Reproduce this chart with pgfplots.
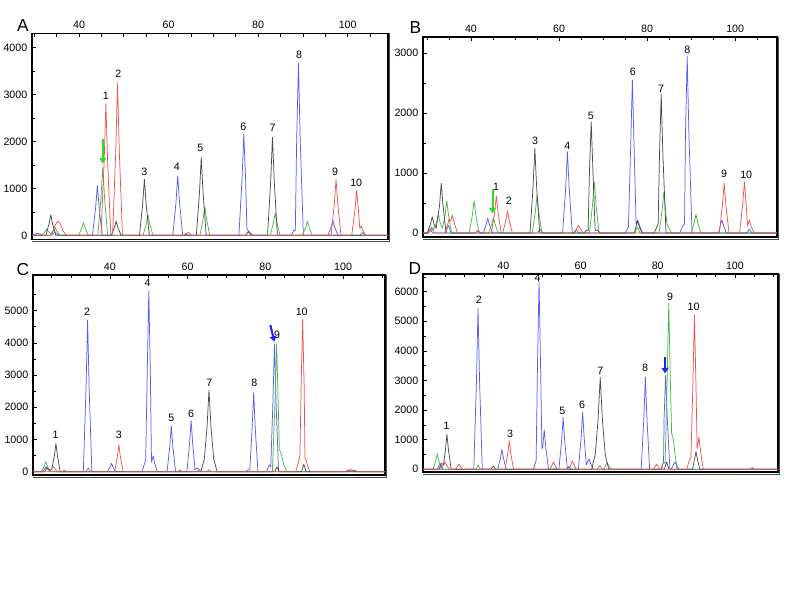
\documentclass[border=0pt]{standalone}
\usepackage{fontspec}
\setmainfont{Liberation Sans}
\usepackage{pgfplots}
\pgfplotsset{compat=1.18}
\usetikzlibrary{arrows.meta}
\definecolor{cblue}{RGB}{90,90,245}
\definecolor{cred}{RGB}{245,80,80}
\definecolor{cgreen}{RGB}{70,185,70}
\definecolor{cblack}{RGB}{75,75,75}
\definecolor{agreen}{RGB}{40,220,40}
\definecolor{ablue}{RGB}{30,30,255}
\pgfplotsset{
 panel/.style={scale only axis, clip=true,
  axis line style={line width=0.9pt},
  tick align=inside, xtick pos=right, xticklabel pos=right, ytick pos=left,
  xtick={40,60,80,100}, minor xtick={25,30,...,110},
  major tick length=3pt, minor tick length=2.5pt,
  tick style={line width=0.5pt, black},
  ticklabel style={font=\fontsize{8}{9.6}\selectfont},
  /pgf/number format/assume math mode=true,
  /pgf/number format/1000 sep={},
  every axis plot/.append style={no marks, line width=0.55pt, line join=round},
 },
}
\tikzset{lab/.style={font=\fontsize{8}{9.6}\selectfont, inner sep=0pt}}
\begin{document}
\begin{tikzpicture}
\path[use as bounding box] (0,0) rectangle (600pt,-450pt);
\node[font=\fontsize{13}{14}\selectfont] at (17.25pt,-19.1pt) {A};
\node[font=\fontsize{13}{14}\selectfont] at (311.5pt,-21pt) {B};
\node[font=\fontsize{13}{14}\selectfont] at (17.25pt,-202.1pt) {C};
\node[font=\fontsize{13}{14}\selectfont] at (311.25pt,-201.5pt) {D};

% ---------------- A ----------------
\begin{axis}[panel, name=pa, at={(24pt,-25pt)}, anchor=north west,
  width=267pt, height=154.5pt,
  xmin=29.5, xmax=109, ymin=-85, ymax=4300,
  ytick={0,1000,2000,3000,4000}, minor ytick={500,1500,2500,3500}]
\addplot[cblue] coordinates {(29.5,0)(30.3,28)(30.7,50)(31.1,28)(31.8,0)
 (33.5,0)(34.2,33)(34.6,60)(35.0,33)(35.7,0)
 (43.0,0)(43.7,583)(44.1,1060)(44.5,583)(45.2,0)
 (60.95,0)(61.65,699)(62.05,1270)(62.45,699)(63.15,0)(63.3,0)(63.85,40)(64.4,0)
 (75.7,0)(76.4,1188)(76.8,2160)(77.2,1188)(77.5,130)(77.8,100)(78.2,55)(78.9,0)
 (87.4,0)(88.0,110)(88.3,100)(88.6,2013)(89.0,3660)(89.4,2013)(90.1,0)
 (95.6,0)(96.3,176)(96.7,320)(97.1,176)(97.8,0)
 (102.7,0)(103.3,60)(103.9,0)(109,0)};
\addplot[cgreen] coordinates {(29.5,0)(31.7,0)(32.4,77)(32.8,140)(33.2,77)(33.7,30)(34.2,96)(34.6,175)(35.0,96)(35.7,0)
 (39.9,0)(40.6,149)(41.0,270)(41.4,149)(42.1,0)
 (44.2,0)(44.9,798)(45.3,1450)(45.7,798)(46.4,0)
 (54.3,0)(55.0,242)(55.4,440)(55.8,242)(56.5,0)
 (67.0,0)(67.7,338)(68.1,615)(68.5,338)(69.2,0)
 (82.7,0)(83.4,261)(83.8,475)(84.2,261)(84.9,0)
 (89.9,0)(90.6,165)(91.0,300)(91.4,165)(92.1,0)(109,0)};
\addplot[cblack] coordinates {(29.5,0)(32.6,0)(33.3,242)(33.7,440)(34.1,242)(34.8,0)
 (47.2,0)(47.9,165)(48.3,300)(48.7,165)(49.4,0)
 (53.5,0)(54.2,655)(54.6,1190)(55.0,655)(55.7,0)
 (66.2,0)(66.9,913)(67.3,1660)(67.7,913)(68.4,0)
 (77.2,0)(77.8,80)(78.4,0)
 (82.1,0)(82.8,1150)(83.2,2090)(83.6,1150)(84.3,0)(109,0)};
\addplot[cred] coordinates {(29.5,0)(33.9,0)(34.6,200)(35.2,300)(35.8,250)(36.4,100)(37.2,0)
 (44.9,0)(45.6,1540)(46.0,2800)(46.4,1540)(47.1,0)
 (47.5,0)(48.2,1779)(48.6,3235)(49.0,1779)(49.7,0)
 (63.7,0)(64.4,70)(65.1,0)
 (96.3,0)(97.0,655)(97.4,1190)(97.8,655)(98.5,0)
 (100.9,0)(101.6,525)(102.0,955)(102.4,525)(102.7,150)(103.0,200)(103.4,100)(104.0,0)(109,0)};
\node[lab] at (axis cs:45.97,2972) {1};
\node[lab] at (axis cs:48.78,3439) {2};
\node[lab] at (axis cs:54.6,1359) {3};
\node[lab] at (axis cs:61.83,1450) {4};
\node[lab] at (axis cs:67.1,1853) {5};
\node[lab] at (axis cs:76.7,2314) {6};
\node[lab] at (axis cs:83.2,2278) {7};
\node[lab] at (axis cs:89.16,3837) {8};
\node[lab] at (axis cs:97.2,1359) {9};
\node[lab] at (axis cs:101.9,1119) {10};
\draw[agreen, line width=1.6pt, -{Triangle[length=4pt,width=5pt]}] (axis cs:45.3,2060) -- (axis cs:45.3,1530);
\end{axis}
\draw[black!70, line width=0.6pt] ([yshift=-1.6pt]pa.south west) -- ([yshift=-1.6pt,xshift=0.8pt]pa.south east) -- ([xshift=0.8pt]pa.north east);

% ---------------- B ----------------
\begin{axis}[panel, name=pb, at={(317.25pt,-27.75pt)}, anchor=north west,
  width=265.5pt, height=150pt,
  xmin=29.1, xmax=109.5, ymin=-67, ymax=3267,
  ytick={0,1000,2000,3000}, minor ytick={500,1500,2500}]
\addplot[cblue] coordinates {(29.1,0)(30.0,0)(30.7,60)(31.3,0)
 (34.2,0)(34.85,130)(35.5,0)
 (41.0,0)(41.6,40)(42.2,0)
 (42.8,0)(43.4,135)(43.8,245)(44.2,135)(44.9,0)
 (55.1,0)(55.7,60)(56.3,0)
 (60.8,0)(61.5,745)(61.9,1355)(62.3,745)(63.0,0)(63.3,0)(63.9,60)(64.5,0)
 (75.0,0)(75.75,100)(76.25,1403)(76.65,2550)(77.05,1403)(77.5,150)(77.9,215)(78.3,118)(79.0,0)
 (87.4,0)(88.1,120)(88.5,150)(88.7,1623)(89.1,2950)(89.5,1623)(90.2,0)
 (96.2,0)(96.6,118)(97.0,215)(97.4,118)(98.0,0)
 (102.6,0)(103.2,60)(103.8,0)(109.5,0)};
\addplot[cgreen] coordinates {(29.1,0)(30.3,0)(31.0,100)(31.5,60)(32.2,170)(32.6,310)(33.0,170)(33.5,80)(34.1,295)(34.5,535)(34.9,295)(35.6,0)
 (39.6,0)(40.3,297)(40.7,540)(41.1,297)(41.8,0)
 (44.0,0)(44.7,143)(45.1,260)(45.5,143)(46.2,0)
 (53.9,0)(54.6,347)(55.0,630)(55.4,347)(56.1,0)
 (66.9,0)(67.6,470)(68.0,855)(68.4,470)(69.1,0)
 (77.2,0)(77.8,100)(78.4,0)
 (82.7,0)(83.4,374)(83.8,680)(84.2,374)(84.5,150)(84.9,90)(85.5,0)
 (90.0,0)(90.7,171)(91.1,310)(91.5,171)(92.2,0)(109.5,0)};
\addplot[cblack] coordinates {(29.1,0)(30.1,0)(30.8,150)(31.2,270)(31.6,150)(32.1,80)(32.85,456)(33.25,830)(33.65,456)(34.35,0)
 (53.4,0)(54.1,776)(54.5,1410)(54.9,776)(55.6,0)
 (65.7,0)(66.3,50)(66.6,40)(66.9,1020)(67.3,1855)(67.7,1020)(68.2,40)(68.7,50)(69.3,0)
 (77.1,0)(77.5,110)(77.8,200)(78.2,110)(78.8,0)
 (81.6,0)(82.2,100)(82.5,150)(82.8,1270)(83.2,2310)(83.6,1270)(84.3,0)(109.5,0)};
\addplot[cred] coordinates {(29.1,0)(30.4,0)(31.1,70)(31.8,0)
 (34.2,0)(35.0,230)(35.4,200)(35.75,300)(36.2,170)(36.9,0)
 (41.0,0)(41.6,40)(42.2,0)
 (44.65,0)(45.35,338)(45.75,615)(46.15,338)(46.85,0)
 (47.2,0)(47.9,204)(48.3,370)(48.7,204)(49.4,0)
 (63.6,0)(64.0,72)(64.4,130)(64.8,72)(65.4,0)
 (96.4,0)(97.1,457)(97.5,830)(97.9,457)(98.6,0)
 (101.0,0)(101.7,470)(102.1,855)(102.5,470)(102.8,120)(103.2,215)(103.6,118)(104.3,0)(109.5,0)};
\node[lab] at (axis cs:45.68,772) {1};
\node[lab] at (axis cs:48.57,533) {2};
\node[lab] at (axis cs:54.55,1538) {3};
\node[lab] at (axis cs:61.89,1450) {4};
\node[lab] at (axis cs:67.2,1950) {5};
\node[lab] at (axis cs:76.75,2688) {6};
\node[lab] at (axis cs:83.18,2400) {7};
\node[lab] at (axis cs:89.16,3050) {8};
\node[lab] at (axis cs:97.5,983) {9};
\node[lab] at (axis cs:102.5,962) {10};
\draw[agreen, line width=1.6pt, -{Triangle[length=4pt,width=5pt]}] (axis cs:44.9,728) -- (axis cs:44.9,328);
\end{axis}
\draw[black!70, line width=0.6pt] ([yshift=-1.6pt]pb.south west) -- ([yshift=-1.6pt,xshift=0.8pt]pb.south east) -- ([xshift=0.8pt]pb.north east);

% ---------------- C ----------------
\begin{axis}[panel, name=pc, at={(24.75pt,-206.25pt)}, anchor=north west,
  width=264pt, height=150pt,
  xmin=20.2, xmax=110.8, ymin=-102, ymax=6109,
  ytick={0,1000,...,5000}, minor ytick={500,1500,...,5500}]
\addplot[cblue] coordinates {(20.2,0)(22.5,0)(23.2,83)(23.6,150)(24.0,83)(24.7,0)
 (33.15,0)(33.85,2590)(34.25,4710)(34.65,2590)(35.35,0)
 (39.3,0)(40.0,143)(40.4,260)(40.8,143)(41.5,0)
 (48.3,0)(48.9,250)(49.2,360)(49.6,3086)(50.0,5610)(50.4,3086)(50.7,300)(51.15,490)(51.5,270)(52.2,0)
 (54.7,0)(55.4,781)(55.8,1420)(56.2,781)(56.9,0)
 (59.8,0)(60.5,872)(60.9,1585)(61.3,872)(61.9,60)(62.5,120)(62.9,66)(63.4,0)
 (74.9,0)(75.6,60)(76.0,50)(76.6,1353)(77.0,2460)(77.4,1353)(78.1,0)
 (80.3,0)(81.0,210)(81.4,150)(81.95,2173)(82.35,3950)(82.75,2173)(83.4,0)
 (100.5,0)(102,60)(103.5,0)(110.8,0)};
\addplot[cgreen] coordinates {(20.2,0)(22.4,0)(23.1,171)(23.5,310)(23.9,171)(24.6,0)
 (33.8,0)(34.4,120)(35.0,0)
 (62.3,0)(62.9,60)(63.5,0)
 (81.8,0)(82.5,2180)(82.9,3960)(83.3,2180)(83.6,700)(84.2,500)(84.8,200)(85.5,0)(110.8,0)};
\addplot[cblack] coordinates {(20.2,0)(23.2,0)(23.8,120)(24.3,60)(25.0,60)(25.7,484)(26.1,880)(26.5,484)(27.2,0)
 (63.4,0)(64.3,400)(65.0,1400)(65.5,2540)(66.0,1400)(66.7,400)(67.6,0)
 (82.4,0)(83.0,150)(83.6,0)
 (89.3,0)(89.9,230)(90.5,0)(110.8,0)};
\addplot[cred] coordinates {(20.2,0)(24.5,0)(25.0,96)(25.4,175)(25.8,96)(26.5,0)
 (27.7,0)(28.3,50)(28.9,0)
 (41.2,0)(41.9,457)(42.3,830)(42.7,457)(43.4,0)
 (57.4,0)(58.0,60)(58.6,0)
 (64.9,0)(65.5,60)(66.1,0)
 (87.8,0)(88.5,290)(88.9,500)(89.2,2600)(89.6,4730)(90.0,2600)(90.2,400)(90.45,385)(90.8,210)(91.5,0)
 (100.5,0)(101.5,60)(103,40)(104,0)(110.8,0)};
\node[lab] at (axis cs:26.02,1161) {1};
\node[lab] at (axis cs:34.15,4969) {2};
\node[lab] at (axis cs:42.32,1161) {3};
\node[lab] at (axis cs:49.7,5851) {4};
\node[lab] at (axis cs:55.8,1658) {5};
\node[lab] at (axis cs:60.86,1792) {6};
\node[lab] at (axis cs:65.57,2745) {7};
\node[lab] at (axis cs:77.16,2776) {8};
\node[lab] at (axis cs:83.0,4245) {9};
\node[lab] at (axis cs:89.37,4969) {10};
\draw[ablue, line width=1.5pt, -{Triangle[length=4pt,width=5pt]}] (axis cs:81.3,4556) -- (axis cs:82.3,4040);
\end{axis}
\draw[black!70, line width=0.6pt] ([yshift=-1.6pt]pc.south west) -- ([yshift=-1.6pt,xshift=0.8pt]pc.south east) -- ([xshift=0.8pt]pc.north east);

% ---------------- D ----------------
\begin{axis}[panel, name=pd, at={(317.25pt,-205.5pt)}, anchor=north west,
  width=266.25pt, height=148.5pt,
  xmin=19.2, xmax=111.15, ymin=-91, ymax=6598,
  ytick={0,1000,...,6000}, minor ytick={500,1500,...,6500}]
\addplot[cblue] coordinates {(19.2,0)(22.9,0)(23.6,200)(24.3,0)
 (32.35,0)(33.05,2992)(33.45,5440)(33.85,2992)(34.55,0)
 (38.55,0)(39.25,371)(39.65,675)(40.05,371)(40.75,0)
 (47.8,0)(48.5,300)(48.85,3490)(49.25,6350)(49.65,3490)(50.0,700)(50.2,732)(50.6,1330)(51.0,732)(51.7,0)
 (54.4,0)(55.1,960)(55.5,1745)(55.9,960)(56.6,0)(57.0,100)(57.5,0)
 (59.45,0)(60.15,1059)(60.55,1925)(60.95,1059)(61.5,150)(62.2,350)(62.6,193)(63.3,0)
 (75.7,0)(76.4,1711)(76.8,3110)(77.2,1711)(77.9,0)
 (81.0,0)(81.5,250)(81.65,1752)(82.05,3185)(82.45,1752)(83.15,0)
 (83.5,0)(84.0,138)(84.5,250)(84.9,138)(85.5,0)
 (103.9,0)(104.5,60)(105.1,0)(111.15,0)};
\addplot[cgreen] coordinates {(19.2,0)(21.8,0)(22.5,283)(22.9,515)(23.3,283)(24.0,0)
 (32.9,0)(33.5,150)(34.1,0)
 (53.0,0)(53.5,50)(54.0,0)
 (66.1,0)(66.5,127)(66.9,230)(67.3,127)(67.9,0)
 (80.8,0)(81.5,250)(81.9,200)(82.45,3086)(82.85,5610)(83.25,3086)(83.6,1200)(84.0,1050)(84.4,600)(85.0,0)(111.15,0)};
\addplot[cblack] coordinates {(19.2,0)(23.3,0)(24.05,200)(24.5,150)(25.0,650)(25.4,1180)(25.8,650)(26.5,0)
 (36.8,0)(37.4,110)(38.0,0)
 (62.9,0)(63.8,500)(64.55,1700)(65.1,3110)(65.65,1700)(66.4,500)(67.3,0)
 (81.7,0)(82.3,250)(82.9,0)
 (89.0,0)(89.5,327)(89.9,595)(90.3,327)(90.9,0)(111.15,0)};
\addplot[cred] coordinates {(19.2,0)(23.8,0)(24.5,140)(24.9,255)(25.3,140)(26.0,0)
 (27.6,0)(28.1,94)(28.5,170)(28.9,94)(29.5,0)
 (40.45,0)(41.15,531)(41.55,965)(41.95,531)(42.65,0)
 (52.1,0)(52.6,140)(53.0,255)(53.4,140)(54.0,0)
 (57.0,0)(57.5,154)(57.9,280)(58.3,154)(58.9,0)
 (64.3,0)(65.0,120)(65.7,0)
 (78.9,0)(79.3,94)(79.7,170)(80.1,94)(80.6,0)
 (87.5,0)(88.2,315)(88.6,400)(89.1,2866)(89.5,5210)(89.9,2866)(90.2,700)(90.7,1080)(91.1,594)(91.8,0)(111.15,0)};
\node[lab] at (axis cs:25.34,1473) {1};
\node[lab] at (axis cs:33.63,5743) {2};
\node[lab] at (axis cs:41.74,1182) {3};
\node[lab] at (axis cs:48.9,6453) {4};
\node[lab] at (axis cs:55.28,1970) {5};
\node[lab] at (axis cs:60.38,2172) {6};
\node[lab] at (axis cs:65.12,3321) {7};
\node[lab] at (axis cs:76.7,3412) {8};
\node[lab] at (axis cs:83.17,5831) {9};
\node[lab] at (axis cs:89.3,5473) {10};
\draw[ablue, line width=1.5pt, -{Triangle[length=4pt,width=5pt]}] (axis cs:81.9,3784) -- (axis cs:81.9,3243);
\end{axis}
\draw[black!70, line width=0.6pt] ([yshift=-1.6pt]pd.south west) -- ([yshift=-1.6pt,xshift=0.8pt]pd.south east) -- ([xshift=0.8pt]pd.north east);
\end{tikzpicture}
\end{document}
